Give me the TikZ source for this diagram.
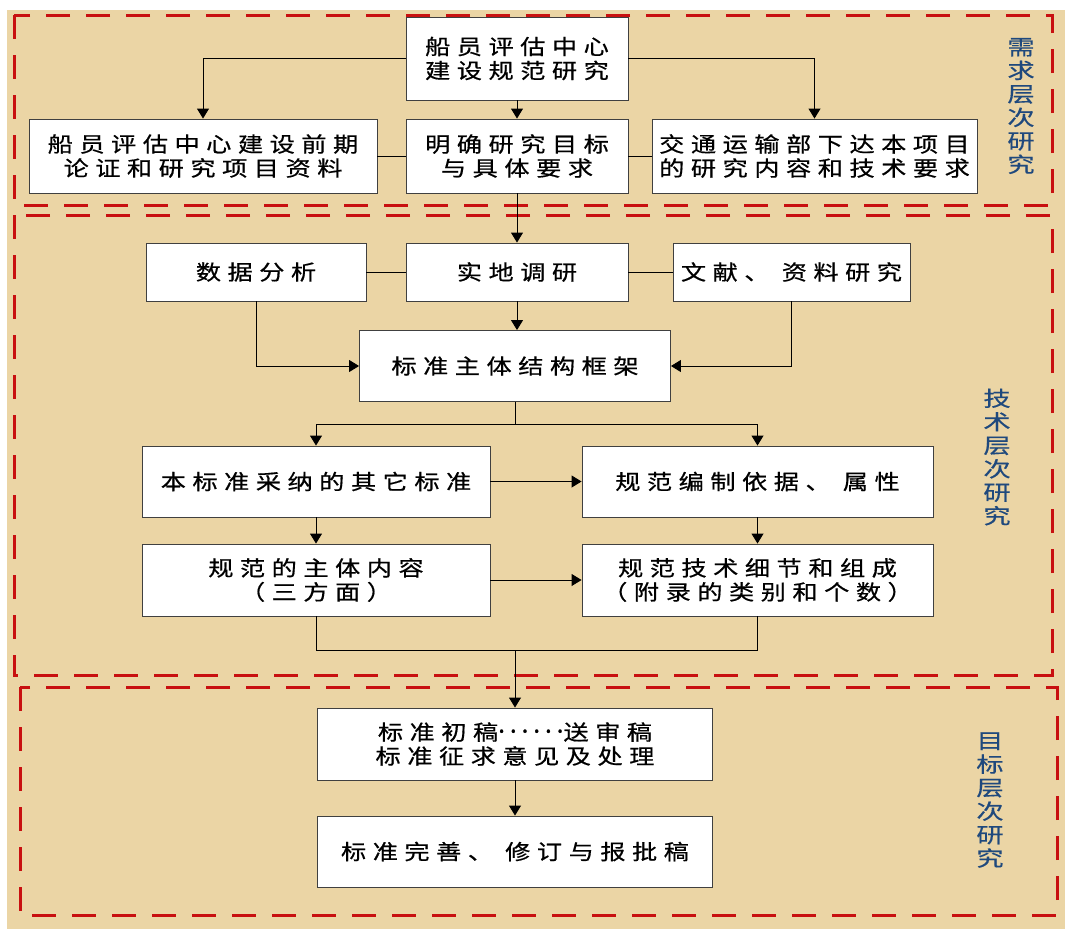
\documentclass[tikz,border=0pt]{standalone}
\usepackage{fontspec}
\usetikzlibrary{arrows.meta}
\newfontfamily\cjk[FakeStretch=1.2,LetterSpace=31,FakeBold=0.6]{Noto Sans CJK SC}
\newfontfamily\dotfont[LetterSpace=20,FakeBold=1]{Noto Sans}
\newfontfamily\cjklab[FakeStretch=1.3,FakeBold=0.4]{Noto Sans CJK SC}
\definecolor{parch}{RGB}{235,213,165}
\definecolor{dred}{RGB}{200,16,16}
\definecolor{lblue}{RGB}{31,73,125}
\begin{document}
\begin{tikzpicture}[x=1pt,y=-1pt,
  box/.style={draw=black!75, line width=0.9pt, fill=white, inner sep=0pt, align=center, font=\cjk\fontsize{21}{24}\selectfont},
  conn/.style={line width=0.9pt, draw=black},
  arr/.style={conn, -{Triangle[width=12pt,length=10pt]}},
  zone/.style={draw=dred, line width=3pt, dash pattern=on 24pt off 16pt},
  lab/.style={text=lblue, align=center, inner sep=0pt, font=\cjklab\fontsize{21}{23.5}\selectfont}]
\useasboundingbox (0,0) rectangle (1065,929);
\fill[white] (0,0) rectangle (1065,929);
\fill[parch] (7,10) rectangle (1065,929);
% zones
\draw[zone] (14,15) rectangle (1052,205);
\draw[zone] (14,215) rectangle (1052,675);
\draw[zone] (20,687) rectangle (1057,915);
% nodes
\node[box, minimum width=222pt, minimum height=83pt] (n1) at (517,58.5) {船员评估中心\\建设规范研究};
\node[box, minimum width=348pt, minimum height=74pt] (n2) at (203,156) {船员评估中心建设前期\\论证和研究项目资料};
\node[box, minimum width=222pt, minimum height=74pt] (n3) at (517,156) {明确研究目标\\与具体要求};
\node[box, minimum width=325pt, minimum height=74pt] (n4) at (814.5,156) {交通运输部下达本项目\\的研究内容和技术要求};
\node[box, minimum width=220pt, minimum height=58pt] (n5) at (256,272) {数据分析};
\node[box, minimum width=222pt, minimum height=58pt] (n6) at (517,272) {实地调研};
\node[box, minimum width=237pt, minimum height=58pt] (n7) at (791.5,272) {文献、 资料研究};
\node[box, minimum width=311pt, minimum height=71pt] (n8) at (515,366) {标准主体结构框架};
\node[box, minimum width=348pt, minimum height=71pt] (n9) at (316,481.5) {本标准采纳的其它标准};
\node[box, minimum width=351pt, minimum height=71pt] (n10) at (757.5,481.5) {规范编制依据、 属性};
\node[box, minimum width=348pt, minimum height=72pt] (n11) at (316,580) {规范的主体内容\\（三方面）};
\node[box, minimum width=351pt, minimum height=72pt] (n12) at (757.5,580) {规范技术细节和组成\\（附录的类别和个数）};
\node[box, minimum width=395pt, minimum height=72pt] (n13) at (515,744) {标准初稿{\dotfont\fontsize{25}{24}\selectfont ······}送审稿\\标准征求意见及处理};
\node[box, minimum width=395pt, minimum height=71pt] (n14) at (515,851.5) {标准完善、 修订与报批稿};
% labels
\node[lab] (l1) at (1021,106) {需\\求\\层\\次\\研\\究};
\node[lab] (l2) at (997,457) {技\\术\\层\\次\\研\\究};
\node[lab] (l3) at (990,800) {目\\标\\层\\次\\研\\究};
% connectors
\draw[arr] (n1.west) -| (n2.north);
\draw[arr] (n1.east) -| (n4.north);
\draw[arr] (n1.south) -- (n3.north);
\draw[conn] (n2.east) -- (n3.west);
\draw[conn] (n3.east) -- (n4.west);
\draw[arr] (n3.south) -- (n6.north);
\draw[conn] (n5.east) -- (n6.west);
\draw[conn] (n6.east) -- (n7.west);
\draw[arr] (n6.south) -- (n6.south |- n8.north);
\draw[arr] (n5.south) |- (n8.west);
\draw[arr] (n7.south) |- (n8.east);
\path (n8.south) ++(0,22) coordinate (j1);
\draw[conn] (n8.south) -- (j1);
\draw[arr] (j1) -| (n9.north);
\draw[arr] (j1) -| (n10.north);
\draw[arr] (n9.east) -- (n10.west);
\draw[arr] (n9.south) -- (n11.north);
\draw[arr] (n10.south) -- (n12.north);
\draw[arr] (n11.east) -- (n12.west);
\path (n13.north) ++(0,-57) coordinate (j2);
\draw[conn] (n11.south) |- (j2) -| (n12.south);
\draw[arr] (j2) -- (n13.north);
\draw[arr] (n13.south) -- (n14.north);
\end{tikzpicture}
\end{document}
